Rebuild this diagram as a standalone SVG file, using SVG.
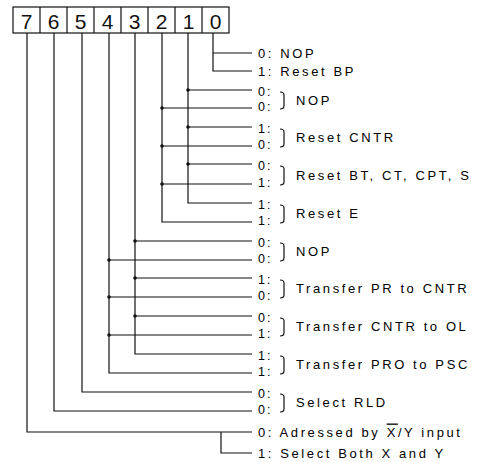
<svg xmlns="http://www.w3.org/2000/svg" width="484" height="462" viewBox="0 0 484 462">
<style>
.ln{fill:none;stroke:#111;stroke-width:1.2}
.dot{fill:#111}
.bx{fill:#fff;stroke:#111;stroke-width:1.2}
.dg{font-family:"Liberation Sans",Arial,sans-serif;font-size:21px;fill:#111;text-anchor:middle}
.t{font-family:"Liberation Sans",Arial,sans-serif;font-size:13px;fill:#000;letter-spacing:2.6px}
.p{font-family:"Liberation Sans",Arial,sans-serif;font-size:12.5px;fill:#000;letter-spacing:2px}
.br{fill:none;stroke:#111;stroke-width:1.2}
</style>
<rect width="484" height="462" fill="#fff"/>
<g id="register">
<rect class="bx" x="13" y="7" width="216" height="26"/>
<path class="ln" d="M40,7V33M67,7V33M94,7V33M121,7V33M148,7V33M175,7V33M202,7V33"/>
<text class="dg" x="26.5" y="28.5">7</text>
<text class="dg" x="53.5" y="28.5">6</text>
<text class="dg" x="80.5" y="28.5">5</text>
<text class="dg" x="107.5" y="28.5">4</text>
<text class="dg" x="134.5" y="28.5">3</text>
<text class="dg" x="161.5" y="28.5">2</text>
<text class="dg" x="188.5" y="28.5">1</text>
<text class="dg" x="215.5" y="28.5">0</text>
</g>
<g id="connectors">
<path class="ln" d="M213,33V71H252M213,53H252"/>
<path class="ln" d="M188,33V203H252M188,90H252M188,127H252M188,164H252"/>
<path class="ln" d="M162,33V222H252M162,108H252M162,146H252M162,184H252"/>
<path class="ln" d="M135,33V354H252M135,241H252M135,278H252M135,316H252"/>
<path class="ln" d="M109,33V373H252M109,260H252M109,297H252M109,335H252"/>
<path class="ln" d="M82,33V392H252"/>
<path class="ln" d="M54,33V411H252"/>
<path class="ln" d="M27,33V432H252M221,432V453H252"/>
<circle class="dot" cx="188" cy="90" r="1.8"/>
<circle class="dot" cx="188" cy="127" r="1.8"/>
<circle class="dot" cx="188" cy="164" r="1.8"/>
<circle class="dot" cx="162" cy="108" r="1.8"/>
<circle class="dot" cx="162" cy="146" r="1.8"/>
<circle class="dot" cx="162" cy="184" r="1.8"/>
<circle class="dot" cx="135" cy="241" r="1.8"/>
<circle class="dot" cx="135" cy="278" r="1.8"/>
<circle class="dot" cx="135" cy="316" r="1.8"/>
<circle class="dot" cx="109" cy="260" r="1.8"/>
<circle class="dot" cx="109" cy="297" r="1.8"/>
<circle class="dot" cx="109" cy="335" r="1.8"/>
</g>
<g id="bit0">
<text class="t" x="258" y="57.5">0: NOP</text>
<text class="t" x="258" y="75.5">1: Reset BP</text>
</g>
<g id="bits21-00">
<text class="p" x="258" y="96">0:</text><text class="p" x="258" y="110.5">0:</text>
<path class="br" d="M280,92Q284,92 284,95V106Q284,109 280,109"/>
<text class="t" x="296" y="105">NOP</text>
</g>
<g id="bits21-01">
<text class="p" x="258" y="133">1:</text><text class="p" x="258" y="148.5">0:</text>
<path class="br" d="M280,129Q284,129 284,132V144Q284,147 280,147"/>
<text class="t" x="296" y="142">Reset CNTR</text>
</g>
<g id="bits21-10">
<text class="p" x="258" y="170">0:</text><text class="p" x="258" y="186.5">1:</text>
<path class="br" d="M280,166Q284,166 284,169V182Q284,185 280,185"/>
<text class="t" x="296" y="180">Reset BT, CT, CPT, S</text>
</g>
<g id="bits21-11">
<text class="p" x="258" y="209">1:</text><text class="p" x="258" y="224.5">1:</text>
<path class="br" d="M280,205Q284,205 284,208V220Q284,223 280,223"/>
<text class="t" x="296" y="218">Reset E</text>
</g>
<g id="bits43-00">
<text class="p" x="258" y="247">0:</text><text class="p" x="258" y="262.5">0:</text>
<path class="br" d="M280,243Q284,243 284,246V258Q284,261 280,261"/>
<text class="t" x="296" y="256">NOP</text>
</g>
<g id="bits43-01">
<text class="p" x="258" y="284">1:</text><text class="p" x="258" y="299.5">0:</text>
<path class="br" d="M280,280Q284,280 284,283V295Q284,298 280,298"/>
<text class="t" x="296" y="293">Transfer PR to CNTR</text>
</g>
<g id="bits43-10">
<text class="p" x="258" y="322">0:</text><text class="p" x="258" y="337.5">1:</text>
<path class="br" d="M280,318Q284,318 284,321V333Q284,336 280,336"/>
<text class="t" x="296" y="331">Transfer CNTR to OL</text>
</g>
<g id="bits43-11">
<text class="p" x="258" y="360">1:</text><text class="p" x="258" y="375.5">1:</text>
<path class="br" d="M280,356Q284,356 284,359V371Q284,374 280,374"/>
<text class="t" x="296" y="369">Transfer PRO to PSC</text>
</g>
<g id="bits65">
<text class="p" x="258" y="398">0:</text><text class="p" x="258" y="413.5">0:</text>
<path class="br" d="M280,394Q284,394 284,397V409Q284,412 280,412"/>
<text class="t" x="296" y="407">Select RLD</text>
</g>
<g id="bit7">
<text class="t" x="258" y="436.5">0: Adressed by <tspan style="text-decoration:overline">X</tspan>/Y input</text>
<text class="t" x="258" y="457.5">1: Select Both X and Y</text>
</g>
</svg>
